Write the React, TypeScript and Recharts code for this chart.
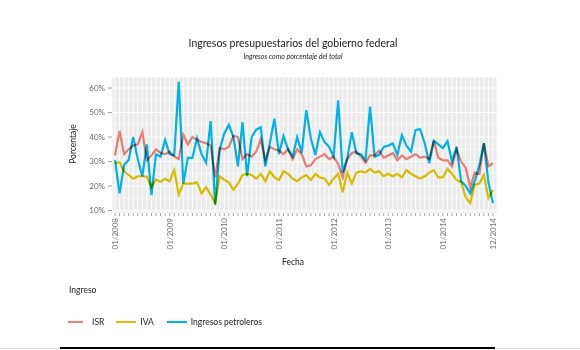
import React from "react";
import { LineChart, Line, XAxis, YAxis, CartesianGrid, ReferenceLine } from "recharts";

const years = ["2008", "2009", "2010", "2011", "2012", "2013", "2014"];
const monthNums = ["01", "02", "03", "04", "05", "06", "07", "08", "09", "10", "11", "12"];
const shownTickLabels = ["01/2008", "01/2009", "01/2010", "01/2011", "01/2012", "01/2013", "01/2014", "12/2014"];
const yTicks = [10, 20, 30, 40, 50, 60];
const yMinor = [15, 25, 35, 45, 55];

const isr = [
  32.5, 42.5, 33, 35, 36.5, 37, 42, 30.5, 32.5, 35, 33.5, 33,
  34, 32, 31, 41, 37, 40, 39, 38, 37.5, 36.5, 23.5, 35.5,
  35, 36, 40.5, 40, 31, 33, 32, 34, 39, 30.5, 36, 35,
  34.5, 33, 35, 31, 35, 33, 28, 28.5, 31, 32, 33, 31,
  32, 29, 23.5, 31, 33.5, 34, 32, 29.5, 32.5, 32.5, 34.5, 31.5,
  32.5, 33.5, 30.5, 32.5, 31, 32, 33, 31.5, 32, 31, 38.5, 31.5,
  30.5, 30.5, 28, 35, 30, 27.5, 19.5, 25.5, 25, 37.5, 28, 29.3,
];

const iva = [
  29.3, 29.7, 26, 24.5, 23, 24, 24, 23.8, 19.5, 22.7, 21.8, 23,
  22, 26.5, 16.5, 21, 21, 21, 21.5, 17, 19.5, 16.5, 13, 24,
  22.5, 21.5, 18.5, 21, 24.5, 25, 24.5, 23, 25, 22, 26, 23.5,
  22.5, 26, 25, 23, 22, 23.5, 24.5, 22.5, 25, 23.5, 23, 20.5,
  23, 25, 17.5, 25.5, 21, 25.5, 26, 25.5, 27, 25.5, 26, 24,
  25, 24, 25, 23.5, 26.5, 25, 24, 23, 24, 25.5, 26.5, 23.5,
  23.5, 27, 25, 22.5, 21.5, 15.5, 13, 20.5, 21, 24.5, 15, 18.5,
];

const petroleros = [
  30.6, 17, 28.6, 30.6, 40, 31, 24, 37, 16.3, 33, 32, 38.8,
  33, 32.5, 62.5, 21, 31.5, 31.5, 39.5, 33, 29.5, 46.5, 12.5, 35,
  41.5, 45, 40, 28, 46, 24, 40, 43, 44, 28, 37.5, 47.5,
  33, 40.5, 35, 32, 40, 33.5, 51, 39.5, 32.7, 42, 38, 36,
  32, 55, 25.5, 31.3, 42, 33.3, 33, 30.5, 52.4, 32, 32.7, 36,
  36.5, 37.4, 32.7, 40.8, 36.5, 34, 42.9, 43.2, 37.5, 29.3, 38.5, 37,
  35.5, 38.3, 30, 36, 22, 20, 17, 22, 28.5, 37.5, 21.5, 13,
];

const monthLabels: string[] = [];
years.forEach((y) => monthNums.forEach((m) => monthLabels.push(`${m}/${y}`)));

const data = monthLabels.map((label, i) => ({
  i,
  label,
  isr: isr[i],
  iva: iva[i],
  pet: petroleros[i],
}));

const xTicks = data.map((d) => d.i);

const COLORS = { isr: "#FA8479", iva: "#E6C800", pet: "#00BDF9" };
const FONT = "Lato, 'Open Sans', sans-serif";

const XTick = (props: any) => {
  const { x, y, payload } = props;
  const lab = monthLabels[payload.value];
  if (!shownTickLabels.includes(lab)) return null;
  return (
    <text
      x={x}
      y={y}
      transform={`rotate(-90 ${x} ${y})`}
      textAnchor="end"
      dominantBaseline="central"
      fontSize={8}
      fill="#707070"
      fontFamily={FONT}
    >
      {lab}
    </text>
  );
};

export default function App() {
  return (
    <div style={{ position: "absolute", left: 0, top: 0, width: 580, height: 350, background: "#fff", fontFamily: FONT }}>
      <style>{`.recharts-line-curve{mix-blend-mode:multiply}`}</style>
      <div style={{ position: "absolute", left: 0, width: 586, top: 37, textAlign: "center", fontSize: 10.5, color: "#1a1a1a" }}>
        Ingresos presupuestarios del gobierno federal
      </div>
      <div style={{ position: "absolute", left: 0, width: 586, top: 52, textAlign: "center", fontSize: 7, fontStyle: "italic", color: "#222" }}>
        Ingresos como porcentaje del total
      </div>
      <LineChart
        width={580}
        height={350}
        data={data}
        margin={{ top: 77, right: 83, bottom: 87, left: 62 }}
      >
        <CartesianGrid stroke="#ffffff" strokeWidth={0.9} fill="#EBEBEB" fillOpacity={1} />
        {yMinor.map((v) => (
          <ReferenceLine key={v} y={v} stroke="#ffffff" strokeWidth={0.5} ifOverflow="hidden" />
        ))}
        <XAxis
          dataKey="i"
          type="number"
          domain={[-0.66, 83.88]}
          allowDataOverflow
          ticks={xTicks}
          interval={0}
          height={50}
          axisLine={false}
          tickLine={{ stroke: "#8a8a8a", strokeWidth: 0.8 }}
          tickSize={3}
          tickMargin={2}
          tick={<XTick />}
        />
        <YAxis
          type="number"
          domain={[9, 64.5]}
          allowDataOverflow
          ticks={yTicks}
          width={50}
          axisLine={false}
          tickLine={{ stroke: "#8a8a8a", strokeWidth: 0.8 }}
          tickSize={4}
          tickMargin={3}
          tickFormatter={(v: number) => `${v}%`}
          tick={{ fontSize: 8, fill: "#6b6b6b", fontFamily: FONT }}
        />
        <Line type="linear" dataKey="isr" stroke={COLORS.isr} strokeWidth={2.2} dot={false} isAnimationActive={false} />
        <Line type="linear" dataKey="iva" stroke={COLORS.iva} strokeWidth={2.2} dot={false} isAnimationActive={false} />
        <Line type="linear" dataKey="pet" stroke={COLORS.pet} strokeWidth={2.2} dot={false} isAnimationActive={false} />
      </LineChart>
      <div style={{ position: "absolute", left: 73, top: 144, transform: "translate(-50%,-50%) rotate(-90deg)", fontSize: 8.5, color: "#222", whiteSpace: "nowrap" }}>
        Porcentaje
      </div>
      <div style={{ position: "absolute", left: 293, top: 262, transform: "translate(-50%,-50%)", fontSize: 8.5, color: "#222" }}>
        Fecha
      </div>
      <div style={{ position: "absolute", left: 69, top: 285, fontSize: 8.5, color: "#222" }}>Ingreso</div>
      <div style={{ position: "absolute", left: 68, top: 317, display: "flex", alignItems: "center", fontSize: 8.5, color: "#222", whiteSpace: "nowrap" }}>
        <span style={{ display: "inline-block", width: 15, height: 2.5, background: "#EE8078", marginRight: 9 }} />
        <span style={{ marginRight: 12 }}>ISR</span>
        <span style={{ display: "inline-block", width: 20, height: 2.5, background: "#D8BE00", marginRight: 4 }} />
        <span style={{ marginRight: 13 }}>IVA</span>
        <span style={{ display: "inline-block", width: 20, height: 2.5, background: "#00B3EC", marginRight: 4 }} />
        <span>Ingresos petroleros</span>
      </div>
      <div style={{ position: "absolute", left: 0, top: 348, width: 580, height: 1, background: "#dcdcdc" }} />
      <div style={{ position: "absolute", left: 60, top: 347, width: 435, height: 2, background: "#000" }} />
    </div>
  );
}
